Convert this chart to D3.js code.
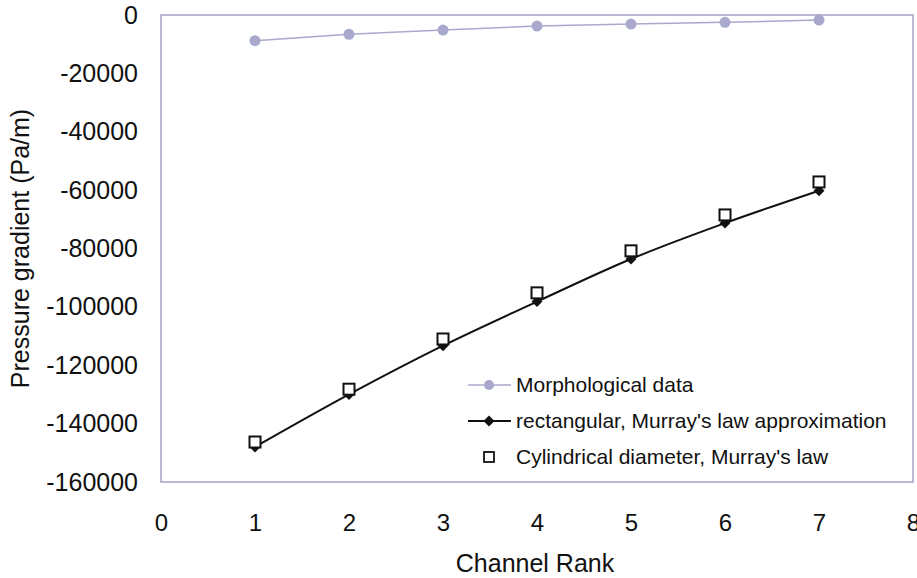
<!DOCTYPE html>
<html><head><meta charset="utf-8">
<script src="https://cdn.jsdelivr.net/npm/d3@7"></script>
<style>
html,body{margin:0;padding:0;background:#fff;}
svg{display:block;font-family:"Liberation Sans",Arial,sans-serif;}
</style></head>
<body>
<svg id="chart" width="917" height="578"></svg>
<script>
const ranks = [1, 2, 3, 4, 5, 6, 7];
const morphological = [-8800, -6600, -5150, -3800, -3100, -2500, -1750];
const rectangularMurray = [-148000, -130000, -113300, -98200, -83600, -71300, -60200];
const cylindricalMurray = [-146300, -128200, -111000, -95200, -80800, -68500, -57200];
const xTicks = [0, 1, 2, 3, 4, 5, 6, 7, 8];
const yTicks = [0, -20000, -40000, -60000, -80000, -100000, -120000, -140000, -160000];
const seriesNames = ["Morphological data", "rectangular, Murray's law approximation", "Cylindrical diameter, Murray's law"];

const svg = d3.select("#chart");
const L = 161, R = 913, T = 15, B = 482;
const x = d3.scaleLinear().domain([0, 8]).range([L, R]);
const y = d3.scaleLinear().domain([-160000, 0]).range([B, T]);

const frameColor = "#a3a3c6";
const morphColor = "#a9a9cd";
const textColor = "#111";

// plot frame
svg.append("rect").attr("x", L).attr("y", T).attr("width", R - L).attr("height", B - T)
  .attr("fill", "none").attr("stroke", frameColor).attr("stroke-width", 1.5);

// y axis labels
const yAxis = d3.axisLeft(y).tickValues(yTicks).tickSize(0).tickPadding(23).tickFormat(d => String(d));
const gy = svg.append("g").attr("transform", `translate(${L},0)`).call(yAxis);
gy.select(".domain").remove();
gy.selectAll("text").attr("font-size", 25).attr("fill", textColor).attr("font-family", "Liberation Sans, Arial, sans-serif");

// x axis labels
const xAxis = d3.axisBottom(x).tickValues(xTicks).tickSize(0).tickPadding(32).tickFormat(d => String(d));
const gx = svg.append("g").attr("transform", `translate(0,${B})`).call(xAxis);
gx.select(".domain").remove();
gx.selectAll("text").attr("font-size", 24).attr("fill", textColor).attr("font-family", "Liberation Sans, Arial, sans-serif");

// axis titles
svg.append("text").attr("x", (L + R) / 2 - 2).attr("y", 572).attr("text-anchor", "middle")
  .attr("font-size", 25).attr("fill", textColor).text("Channel Rank");
svg.append("text").attr("transform", `translate(29,${(T + B) / 2}) rotate(-90)`).attr("text-anchor", "middle")
  .attr("font-size", 25).attr("fill", textColor).text("Pressure gradient (Pa/m)");

// morphological series
const morphLine = d3.line().x((d, i) => x(ranks[i])).y(d => y(d));
svg.append("path").datum(morphological).attr("d", morphLine)
  .attr("fill", "none").attr("stroke", morphColor).attr("stroke-width", 1.5);
svg.append("g").selectAll("circle").data(morphological).join("circle")
  .attr("cx", (d, i) => x(ranks[i])).attr("cy", d => y(d)).attr("r", 5.5).attr("fill", morphColor);

// rectangular series (smoothed)
const rectLine = d3.line().x((d, i) => x(ranks[i])).y(d => y(d)).curve(d3.curveCatmullRom);
svg.append("path").datum(rectangularMurray).attr("d", rectLine)
  .attr("fill", "none").attr("stroke", "#111").attr("stroke-width", 2);
const diamond = d3.symbol().type(d3.symbolSquare).size(60);
svg.append("g").selectAll("path").data(rectangularMurray).join("path")
  .attr("d", diamond).attr("transform", (d, i) => `translate(${x(ranks[i])},${y(d)}) rotate(45)`).attr("fill", "#111");

// cylindrical series: squares
svg.append("g").selectAll("rect").data(cylindricalMurray).join("rect")
  .attr("x", (d, i) => x(ranks[i]) - 5.5).attr("y", d => y(d) - 5.5)
  .attr("width", 11).attr("height", 11).attr("fill", "#fff").attr("stroke", "#111").attr("stroke-width", 2);

// legend
const lg = svg.append("g");
const lx0 = 468, lx1 = 511, lmx = 489, ltx = 516;
const ly = [385, 421, 457];
lg.append("line").attr("x1", lx0).attr("x2", lx1).attr("y1", ly[0]).attr("y2", ly[0]).attr("stroke", morphColor).attr("stroke-width", 1.5);
lg.append("circle").attr("cx", lmx).attr("cy", ly[0]).attr("r", 5).attr("fill", morphColor);
lg.append("line").attr("x1", lx0).attr("x2", lx1).attr("y1", ly[1]).attr("y2", ly[1]).attr("stroke", "#111").attr("stroke-width", 2);
lg.append("path").attr("d", diamond).attr("transform", `translate(${lmx},${ly[1]}) rotate(45)`).attr("fill", "#111");
lg.append("rect").attr("x", lmx - 5).attr("y", ly[2] - 5).attr("width", 10).attr("height", 10)
  .attr("fill", "#fff").attr("stroke", "#111").attr("stroke-width", 1.8);
lg.selectAll("text").data(seriesNames).join("text")
  .attr("x", ltx).attr("y", (d, i) => ly[i]).attr("dy", "0.35em")
  .attr("font-size", 21).attr("fill", textColor).text(d => d);
</script>
</body></html>
